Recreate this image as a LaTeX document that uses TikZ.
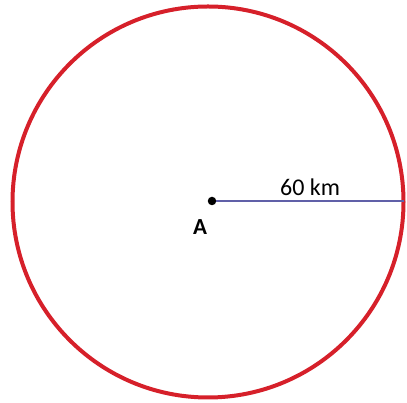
\documentclass[tikz,border=0pt]{standalone}
\usepackage{fontspec}
\setmainfont{Carlito}
\definecolor{ringred}{RGB}{214,32,42}
\definecolor{radblue}{RGB}{96,96,168}
\begin{document}
\begin{tikzpicture}[x=1pt,y=1pt]
\useasboundingbox (0,0) rectangle (407,403);
\draw[ringred,line width=4pt] (208,201) circle (195.5);
\node[circle,fill=black,inner sep=0pt,minimum size=8.5pt] (A) at (212,202) {};
\coordinate (rim) at (404,202);
\draw[radblue,line width=1.2pt] (A) -- (rim);
\draw (310,216) node[font=\fontsize{24}{28}\selectfont]{60 km};
\draw (200,176) node[font=\fontsize{23}{28}\selectfont\bfseries]{A};
\end{tikzpicture}
\end{document}
